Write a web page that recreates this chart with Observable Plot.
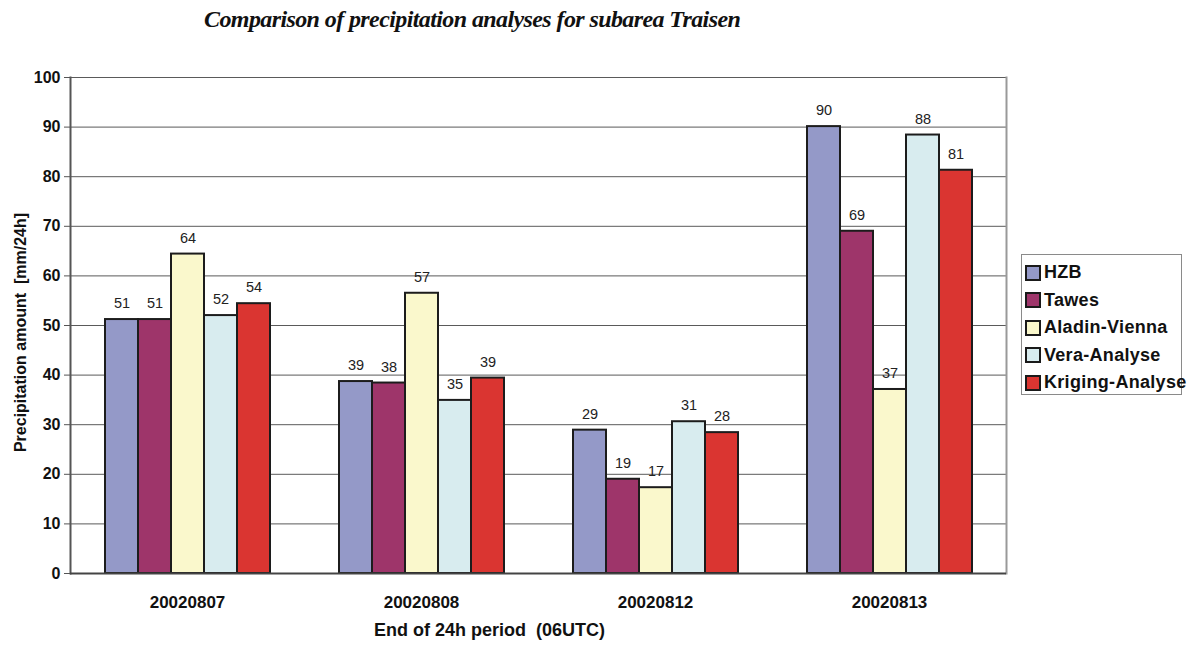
<!DOCTYPE html>
<html>
<head>
<meta charset="utf-8">
<script src="https://cdn.jsdelivr.net/npm/d3@7"></script>
<script src="https://cdn.jsdelivr.net/npm/@observablehq/plot@0.6"></script>
<style>
  html, body { margin: 0; padding: 0; background: #fff; }
  #wrap { position: relative; width: 1192px; height: 646px; font-family: "Liberation Sans", Arial, sans-serif; }
  #title { position: absolute; left: 204px; top: 6px; font-family: "Liberation Serif", "Times New Roman", serif; font-style: italic; font-weight: bold; font-size: 24px; letter-spacing: -0.6px; white-space: nowrap; color: #111; }
  #chart { position: absolute; left: 0; top: 0; }
  #legend { position: absolute; left: 1021px; top: 254px; width: 161px; height: 141px; border: 1px solid #8a8a8a; box-sizing: border-box; background: #fff; padding: 8px 0 0 4px; overflow: visible; }
  .lg-swatches, .lg-swatches * { font-family: "Liberation Sans", Arial, sans-serif !important; font-size: 18px !important; font-weight: bold !important; color: #111 !important; letter-spacing: 0.3px; }
  .lg-swatches { margin: 0 !important; overflow: visible !important; }
  .lg-swatch { display: flex; align-items: center; margin: 0 0 8.5px 0 !important; padding: 0 !important; height: 19px; white-space: nowrap; overflow: visible !important; }
  .lg-swatch svg { overflow: visible; margin-right: 4px !important; }
  .lg-swatch svg rect { stroke: #1a1a1a; stroke-width: 2px; }
  .lg-swatch-label { overflow: visible !important; text-overflow: clip !important; }
</style>
</head>
<body>
<div id="wrap">
  <div id="chart"></div>
  <div id="title">Comparison of precipitation analyses for subarea Traisen</div>
  <div id="legend"></div>
</div>
<script>
const dates = ["20020807", "20020808", "20020812", "20020813"];
const series = ["HZB", "Tawes", "Aladin-Vienna", "Vera-Analyse", "Kriging-Analyse"];
const colors = ["#9499c8", "#9e356a", "#faf8cc", "#d8ecef", "#da3531"];
const hzb     = [51.2, 38.7, 28.9, 90.1];
const tawes   = [51.2, 38.4, 19.0, 69.0];
const aladin  = [64.4, 56.5, 17.3, 37.1];
const vera    = [52.0, 34.9, 30.6, 88.4];
const kriging = [54.4, 39.4, 28.4, 81.3];
const yTicks = [0, 10, 20, 30, 40, 50, 60, 70, 80, 90, 100];
const yLabel = "Precipitation amount  [mm/24h]";
const xLabel = "End of 24h period  (06UTC)";

const valuesBySeries = [hzb, tawes, aladin, vera, kriging];
const data = [];
dates.forEach((d, i) => series.forEach((s, j) => data.push({date: d, series: s, value: valuesBySeries[j][i]})));

const chart = Plot.plot({
  width: 1192,
  height: 646,
  marginLeft: 68,
  marginRight: 185,
  marginTop: 77,
  marginBottom: 73,
  style: {fontFamily: "'Liberation Sans', Arial, sans-serif", color: "#111", background: "transparent"},
  fx: {domain: dates, padding: 0, axis: null},
  x: {domain: series, paddingInner: 0, paddingOuter: 0.95, axis: null},
  y: {domain: [0, 100], axis: null},
  color: {domain: series, range: colors},
  marks: [
    Plot.gridY(yTicks, {stroke: "#5a5a5a", strokeOpacity: 1, strokeWidth: 1}),
    Plot.barY(data, {fx: "date", x: "series", y: "value", fill: "series", stroke: "#1c1c1c", strokeWidth: 2}),
    Plot.text(data, {fx: "date", x: "series", y: "value", text: d => d3.format(".0f")(d.value), dy: -16, fontSize: 14.5, fill: "#222"}),
    Plot.axisY(yTicks, {tickSize: 6, tickPadding: 4, fontSize: 16, fontWeight: "bold", stroke: "#555", label: null}),
    Plot.axisFx({anchor: "bottom", tickSize: 0, tickPadding: 22, fontSize: 17, fontWeight: "bold", label: null}),
    Plot.frame({anchor: "left", facet: "super", stroke: "#555", strokeWidth: 2}),
    Plot.frame({anchor: "right", facet: "super", stroke: "#999", strokeWidth: 2}),
    Plot.ruleY([0], {stroke: "#444", strokeWidth: 2}),
    Plot.text([yLabel], {facet: "super", frameAnchor: "left", textAnchor: "middle", rotate: -90, dx: -50, dy: 7, fontSize: 16, fontWeight: "bold", text: d => d, style: "letter-spacing:1.7px"}),
    Plot.text([xLabel], {facet: "super", frameAnchor: "bottom", dx: -49, dy: 62, fontSize: 18, fontWeight: "bold", text: d => d})
  ]
});
document.getElementById("chart").appendChild(chart);

const legend = Plot.legend({color: {domain: series, range: colors}, columns: 1, swatchSize: 14, className: "lg"});
document.getElementById("legend").appendChild(legend);
</script>
</body>
</html>
